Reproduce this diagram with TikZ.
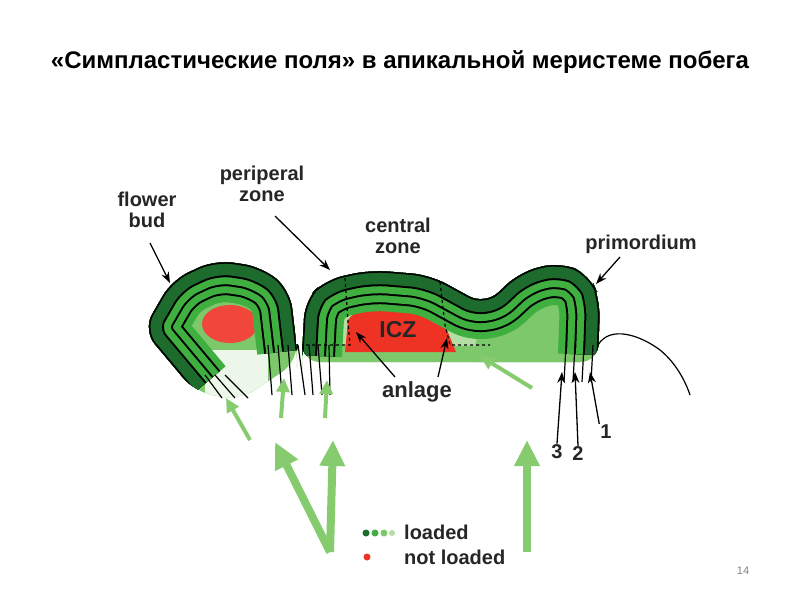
\documentclass[tikz,border=0pt]{standalone}
\usepackage{fontspec}
\setmainfont{Liberation Sans}
\usetikzlibrary{arrows.meta}
\definecolor{dkg}{HTML}{1E6B2E}
\definecolor{mg}{HTML}{3FAF3F}
\definecolor{lg}{HTML}{7CC86A}
\definecolor{pg}{HTML}{B5DEA5}
\definecolor{arr}{HTML}{86CC6E}
\definecolor{rd}{HTML}{EE3324}
\tikzset{
 lbl/.style={font=\bfseries\fontsize{20}{21}\selectfont, align=center, inner sep=1pt, text=black!85},
 blk/.style={-{Stealth[length=11pt,width=8pt]}, line width=1.3pt},
 bigg/.style={arr, line width=8pt, -{Triangle[width=24pt,length=26pt]}},
 smg/.style={arr, line width=4pt, -{Triangle[width=13pt,length=14pt]}}
}
\newcommand{\bandsOn}[1]{%
 \draw[mg, line width=80pt, line join=round, rounded corners=18pt] #1;
 \draw[black, line width=66pt, line join=round, rounded corners=18pt] #1;
 \draw[mg, line width=62pt, line join=round, rounded corners=18pt] #1;
 \draw[black, line width=48pt, line join=round, rounded corners=18pt] #1;
 \draw[mg, line width=44pt, line join=round, rounded corners=18pt] #1;
 \draw[black, line width=30pt, line join=round, rounded corners=18pt] #1;
 \draw[dkg, line width=26pt, line join=round, rounded corners=18pt] #1;
 \draw[black, line width=3pt, line join=round, rounded corners=18pt] #1;}
\begin{document}
\begin{tikzpicture}[x=1pt,y=-1pt]
\useasboundingbox (0,0) rectangle (800,600);
\fill[white] (0,0) rectangle (800,600);
\node[font=\bfseries\fontsize{24}{26}\selectfont] (title) at (400,62) {«Симпластические поля» в апикальной меристеме побега};
% flower bud
\begin{scope}
 \clip[rounded corners=18pt] (195,392) -- (143,330) -- (172,280) -- (215,260) -- (262,267) -- (290,290) -- (297,350) -- (297,362) -- (240,400) -- cycle;
 \fill[lg] (120,240) rectangle (310,410);
 \fill[pg!25!white] (205,350) rectangle (268,410);
 \fill[rd!90!white] (230,324) ellipse (28pt and 19pt);
 \bandsOn{(195,392) -- (143,330) -- (172,280) -- (215,260) -- (262,267) -- (290,290) -- (297,350)}
\end{scope}
% middle + primordium
\begin{scope}
 \clip[rounded corners=18pt] (302,355) -- (305,300) -- (325,280) -- (370,270) -- (430,275) -- (485,305) -- (520,272) -- (560,262) -- (590,275) -- (600,300) -- (598,362) -- (302,362) -- cycle;
 \fill[pg] (290,250) rectangle (620,370);
 \fill[lg] (485,300) -- (620,240) -- (620,370) -- (470,370) -- cycle;
 \fill[lg] (300,346) rectangle (620,370);
 \fill[rd] (345,352) -- (348,320) .. controls (360,300) and (430,298) .. (442,318) -- (456,352) -- cycle;
 \bandsOn{(302,355) -- (305,300) -- (325,280) -- (370,270) -- (430,275) -- (485,305) -- (520,272) -- (560,262) -- (590,275) -- (600,300) -- (598,355)}
\end{scope}
\draw[black, dashed, line width=1.2pt] (345,278) -- (348,322) -- (350,345) -- (302,345);
\draw[black, dashed, line width=1.2pt] (440,282) -- (445,325) -- (450,345) -- (490,345);
% descending lines
\foreach \a/\b in {268/272,278/282,288/292,298/305,309/313,318/322,329/330}{\draw[line width=1.2pt] (\a,345) -- (\b,395);}
\foreach \a/\b in {205/222,215/235,225/248}{\draw[line width=1.2pt] (\a,375) -- (\b,398);}
\foreach \a in {566,575,584,593}{\draw[line width=1.2pt] (\a,345) -- (\a-2,382);}
\draw[line width=1.2pt] (598,345) .. controls (610,325) and (640,335) .. (660,350) .. controls (675,362) and (685,380) .. (690,395);
% labels
\node[lbl] (fb) at (147,210) {flower\\bud};
\node[lbl] (pz) at (262,184) {periperal\\zone};
\node[lbl] (cz) at (398,236) {central\\zone};
\node[lbl] (pr) at (641,244) {primordium};
\node[lbl, font=\bfseries\fontsize{23}{24}\selectfont] (icz) at (398,330) {ICZ};
\node[lbl, font=\bfseries\fontsize{22}{24}\selectfont] (an) at (417,392) {anlage};
\node[lbl] (n3) at (557,452) {3};
\node[lbl] (n2) at (578,454) {2};
\node[lbl] (n1) at (606,432) {1};
\coordinate (fbT) at (170,283);
\coordinate (pzT) at (330,270);
\coordinate (prT) at (596,284);
\coordinate (a1T) at (356,332);
\coordinate (a2T) at (447,338);
\draw[blk] (150,243) -- (fbT);
\draw[blk] (275,216) -- (pzT);
\draw[blk] (620,257) -- (prT);
\draw[blk] (395,377) -- (a1T);
\draw[blk] (438,377) -- (a2T);
\draw[blk] (n3.north) -- (562,372);
\draw[blk] (n2.north) -- (575,372);
\draw[blk] (n1.north west) -- (590,372);
% green arrows
\coordinate (g0) at (330,552);
\coordinate (g1) at (275,442);
\coordinate (g2) at (333,440);
\coordinate (g3) at (527,552);
\coordinate (g4) at (527,440);
\draw[bigg] (g0) -- (g1);
\draw[bigg] (g0) -- (g2);
\draw[bigg] (g3) -- (g4);
\draw[smg] (250,440) -- (226,398);
\draw[smg] (281,418) -- (284,378);
\draw[smg] (325,418) -- (327,380);
\draw[smg] (532,388) -- (480,356);
% legend
\fill[dkg] (366,533) circle (3.5pt);
\fill[mg] (375,533) circle (3.5pt);
\fill[lg] (384,533) circle (3.5pt);
\fill[pg] (392,533) circle (3pt);
\fill[rd] (367,557) circle (3.5pt);
\node[lbl, anchor=west] (ld) at (403,532) {loaded};
\node[lbl, anchor=west] (nl) at (403,557) {not loaded};
\node[text=gray, font=\fontsize{11}{12}\selectfont] (pg14) at (743,571) {14};
\end{tikzpicture}
\end{document}
